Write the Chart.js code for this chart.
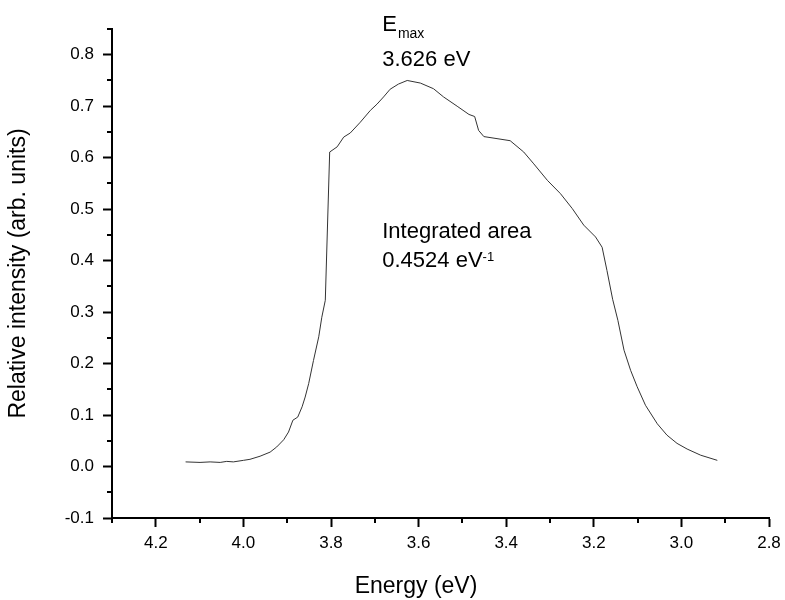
<!DOCTYPE html>
<html>
<head>
<meta charset="utf-8">
<script src="https://cdn.jsdelivr.net/npm/chart.js@4"></script>
<style>
  html, body { margin: 0; padding: 0; background: #fff; }
  #wrap { width: 785px; height: 600px; }
</style>
</head>
<body>
<div id="wrap"><canvas id="myChart" width="785" height="600"></canvas></div>
<script>
'use strict';

// spectrum (energy in eV, intensity in arb. units)
let energy = [4.132, 4.099, 4.076, 4.053, 4.038, 4.023, 4.000, 3.985, 3.962, 3.939,
  3.924, 3.908, 3.897, 3.887, 3.876, 3.866, 3.859, 3.851, 3.840, 3.828,
  3.821, 3.813, 3.803, 3.786, 3.771, 3.756, 3.733, 3.710, 3.695, 3.680,
  3.665, 3.646, 3.626, 3.596, 3.566, 3.543, 3.512, 3.485, 3.472, 3.463,
  3.451, 3.421, 3.391, 3.360, 3.337, 3.306, 3.276, 3.249, 3.223, 3.196,
  3.181, 3.170, 3.157, 3.145, 3.131, 3.116, 3.101, 3.082, 3.055, 3.033,
  3.010, 2.987, 2.956, 2.918];
let intensity = [0.009, 0.008, 0.009, 0.008, 0.010, 0.009, 0.012, 0.014, 0.020, 0.028,
  0.038, 0.052, 0.067, 0.090, 0.096, 0.116, 0.135, 0.161, 0.206, 0.252,
  0.290, 0.323, 0.611, 0.621, 0.640, 0.648, 0.669, 0.692, 0.704, 0.718,
  0.733, 0.743, 0.750, 0.745, 0.734, 0.718, 0.700, 0.684, 0.680, 0.653,
  0.641, 0.637, 0.633, 0.611, 0.588, 0.556, 0.530, 0.501, 0.469, 0.446,
  0.426, 0.381, 0.325, 0.284, 0.226, 0.187, 0.155, 0.119, 0.083, 0.061,
  0.045, 0.034, 0.022, 0.012];

let xMin = 2.8;
let xMax = 4.3;
let yMin = -0.1;
let yMax = 0.85;
// major (labelled) and minor tick values
let xMajor = [2.8, 3.0, 3.2, 3.4, 3.6, 3.8, 4.0, 4.2];
let yMajor = [-0.1, 0.0, 0.1, 0.2, 0.3, 0.4, 0.5, 0.6, 0.7, 0.8];
let xMinor = [2.9, 3.1, 3.3, 3.5, 3.7, 3.9, 4.1, 4.3];
let yMinor = [-0.05, 0.05, 0.15, 0.25, 0.35, 0.45, 0.55, 0.65, 0.75, 0.85];

let xTitle = 'Energy (eV)';
let eMaxText = '3.626 eV';
let areaTitle = 'Integrated area';
let areaText = '0.4524 eV';

let points = [];
for (let i = 0; i < energy.length; i++) {
  points.push({ x: energy[i], y: intensity[i] });
}

let fontFam = "Arial, 'Liberation Sans', sans-serif";

// minor ticks, x title and the text notes
let notesPlugin = {
  id: 'notes',
  afterDraw(chart) {
    let ctx = chart.ctx;
    let xs = chart.scales.x;
    let ys = chart.scales.y;
    let area = chart.chartArea;
    ctx.save();

    ctx.strokeStyle = '#000';
    ctx.lineWidth = 2;
    ctx.beginPath();
    for (let i = 0; i < xMinor.length; i++) {
      let px = Math.round(xs.getPixelForValue(xMinor[i]));
      ctx.moveTo(px, area.bottom);
      ctx.lineTo(px, area.bottom + 5);
    }
    for (let i = 0; i < yMinor.length; i++) {
      let py = Math.round(ys.getPixelForValue(yMinor[i]));
      ctx.moveTo(area.left, py);
      ctx.lineTo(area.left - 5, py);
    }
    ctx.stroke();

    ctx.fillStyle = '#000';
    ctx.textAlign = 'center';
    ctx.textBaseline = 'alphabetic';
    ctx.font = '23px ' + fontFam;
    ctx.fillText(xTitle, 416, 593);

    let left = xs.getPixelForValue(3.683);
    ctx.textAlign = 'left';
    ctx.font = '22px ' + fontFam;
    ctx.fillText('E', left, ys.getPixelForValue(0.847));
    let eW = ctx.measureText('E').width;
    ctx.font = '14px ' + fontFam;
    ctx.fillText('max', left + eW + 1, ys.getPixelForValue(0.832));

    ctx.font = '22px ' + fontFam;
    ctx.fillText(eMaxText, left, ys.getPixelForValue(0.779));
    ctx.fillText(areaTitle, left, ys.getPixelForValue(0.4436));
    ctx.fillText(areaText, left, ys.getPixelForValue(0.3869));
    let aW = ctx.measureText(areaText).width;
    ctx.font = '13px ' + fontFam;
    ctx.fillText('-1', left + aW, ys.getPixelForValue(0.4));
    ctx.restore();
  }
};

let ctx = document.getElementById('myChart').getContext('2d');
let myChart = new Chart(ctx, {
  type: 'scatter',
  data: {
    datasets: [{
      data: points,
      showLine: true,
      borderColor: '#333',
      borderWidth: 1,
      pointRadius: 0,
      fill: false
    }]
  },
  options: {
    responsive: false,
    animation: false,
    layout: { padding: { top: 29, right: 16, left: 0, bottom: 0 } },
    plugins: {
      legend: { display: false },
      tooltip: { enabled: false }
    },
    scales: {
      x: {
        type: 'linear',
        reverse: true,
        min: xMin,
        max: xMax,
        afterBuildTicks(scale) {
          scale.ticks = xMajor.map(v => ({ value: v }));
        },
        afterFit(scale) { scale.height = 82; },
        border: { display: true, color: '#000', width: 2 },
        grid: { drawOnChartArea: false, drawTicks: true, tickLength: 9, tickColor: '#000', tickWidth: 2 },
        ticks: {
          color: '#000',
          padding: 6,
          maxRotation: 0,
          autoSkip: false,
          font: { family: fontFam, size: 17 },
          callback: function (v) { return Number(v).toFixed(1); }
        },
        title: { display: false }
      },
      y: {
        type: 'linear',
        min: yMin,
        max: yMax,
        afterBuildTicks(scale) {
          scale.ticks = yMajor.map(v => ({ value: v }));
        },
        afterFit(scale) { scale.width = 112; },
        border: { display: true, color: '#000', width: 2 },
        grid: { drawOnChartArea: false, drawTicks: true, tickLength: 9, tickColor: '#000', tickWidth: 2 },
        ticks: {
          color: '#000',
          padding: 9,
          autoSkip: false,
          font: { family: fontFam, size: 17 },
          callback: function (v) { return Number(v).toFixed(1); }
        },
        title: {
          display: true,
          text: 'Relative intensity (arb. units)',
          color: '#000',
          font: { family: fontFam, size: 23 },
          padding: { top: 5, bottom: 0 }
        }
      }
    }
  },
  plugins: [notesPlugin]
});
</script>
</body>
</html>
